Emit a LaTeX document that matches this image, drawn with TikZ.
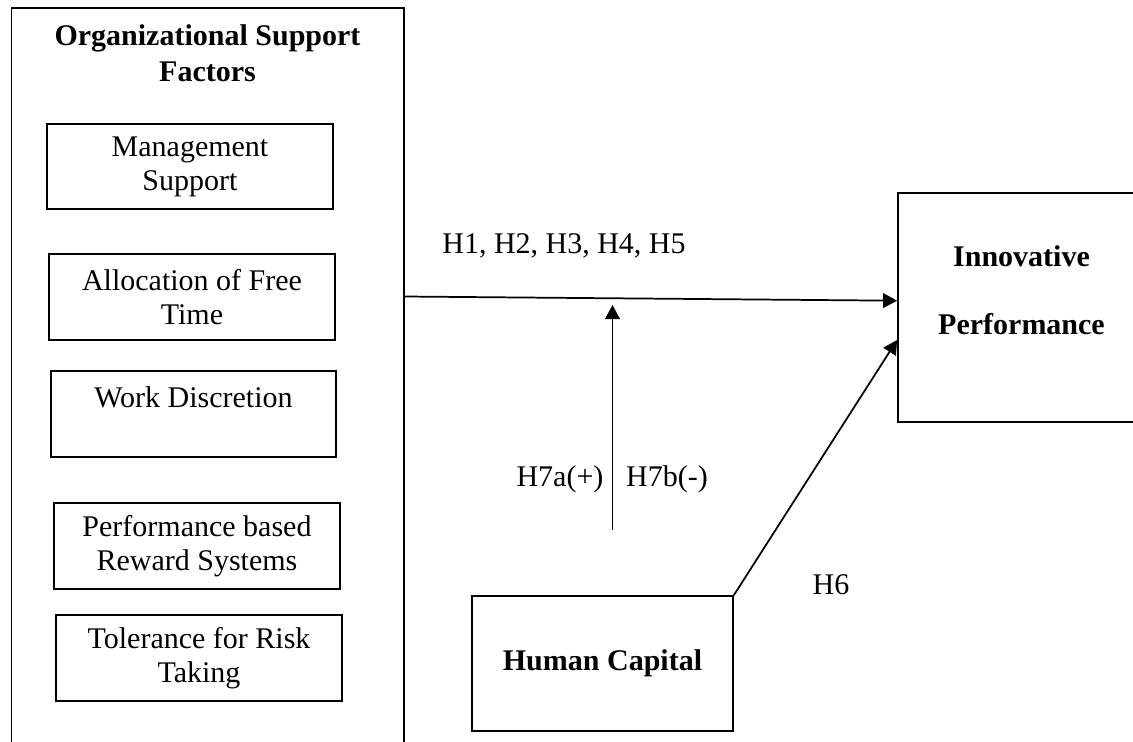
\documentclass[tikz,border=0pt]{standalone}
\usepackage{fontspec}
\setmainfont{Liberation Serif}
\usetikzlibrary{arrows.meta,calc}

\tikzset{every picture/.style={line width=0.75pt}}

\begin{document}
\begin{tikzpicture}[x=0.75pt,y=0.75pt,yscale=-1,xscale=1,
	font=\fontsize{22.5}{25.5}\selectfont,
	factor/.style={draw, line width=1.35, align=center, inner sep=0pt, minimum width=214.5pt, minimum height=64.5pt},
	bigbox/.style={draw, line width=1.35, align=center, inner sep=0pt},
	arr/.style={line width=1.3, -{Triangle[length=10.5pt,width=11pt]}}]
	\useasboundingbox (0,0) rectangle (1133,742);

	%Shape: Rectangle (outer frame, runs off the page at the bottom)
	\node (osf) [bigbox, minimum width=294.4pt, minimum height=564pt] at (207.75,384) {};
	% Text Node
	\node (osft) [align=center, inner sep=0pt, font=\fontsize{22.5}{25.5}\selectfont\bfseries] at (207.5,53.7) {Organizational Support\\[1.5pt]Factors};

	%Shape: Rectangle
	\node (ms) [factor, minimum height=63.75pt] at (190,166.5) {Management\\Support};
	%Shape: Rectangle
	\node (aft) [factor] at (192,297) {Allocation of Free\\Time};
	%Shape: Rectangle
	\node (wd) [factor, minimum width=213.75pt] at (193.5,414) {Work Discretion\\~};
	%Shape: Rectangle
	\node (pb) [factor] at (197,546) {Performance based\\Reward Systems};
	%Shape: Rectangle
	\node (trt) [factor] at (199,658) {Tolerance for Risk\\Taking};

	%Shape: Rectangle (runs off the page at the right)
	\node (ip) [bigbox, minimum width=185.25pt, minimum height=171.75pt, font=\fontsize{22.5}{25.5}\selectfont\bfseries] at (1021.5,307.5) {Innovative\\[25.5pt]Performance\\~};
	%Shape: Rectangle
	\node (hc) [bigbox, minimum width=195.75pt, minimum height=101.25pt, font=\fontsize{22.5}{25.5}\selectfont\bfseries] at (602.5,663.5) {Human Capital};

	\coordinate (h1s) at (404,296.5);
	\coordinate (mod) at (612.5,530);
	\coordinate (modtip) at (612.5,305);

	%Straight Lines
	\draw [arr] (h1s) -- ($(ip.west)+(0,-6.8)$);
	%Straight Lines
	\draw [arr] (mod) -- (modtip);
	%Straight Lines
	\draw [arr] (hc.north east) -- ($(ip.west)+(0,32.5)$);

	% Text Node
	\node (hyp) [anchor=base, inner sep=0pt] at (564,253) {H1, H2, H3, H4, H5};
	% Text Node
	\node (h7a) [anchor=base, inner sep=0pt] at (560,486) {H7a(+)};
	% Text Node
	\node (h7b) [anchor=base, inner sep=0pt] at (667,486) {H7b(-)};
	% Text Node
	\node (h6) [anchor=base, inner sep=0pt] at (831,594) {H6};

\end{tikzpicture}
\end{document}
